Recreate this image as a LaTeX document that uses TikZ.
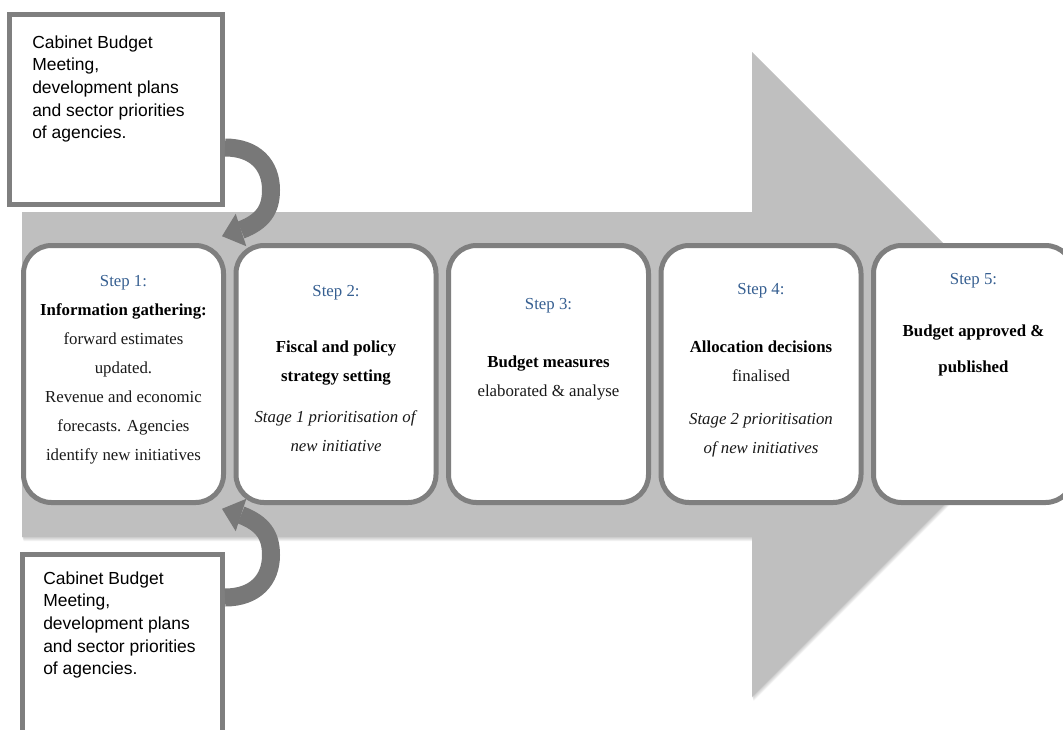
\documentclass[tikz,border=0pt]{standalone}
\usepackage{fontspec}
\setmainfont{Liberation Serif}
\newfontfamily\notefont{Liberation Sans}
\usetikzlibrary{calc}

\definecolor{shaftgrey}{RGB}{191,191,191}
\definecolor{framegrey}{RGB}{127,127,127}
\definecolor{bendgrey}{RGB}{120,120,120}
\definecolor{stepblue}{RGB}{54,95,145}
\definecolor{bodyink}{RGB}{25,25,25}

\tikzset{
  stepbox/.style={draw=framegrey, fill=white, line width=3.75pt,
    rounded corners=21pt, minimum width=150pt, minimum height=192.75pt,
    inner sep=0pt},
  notebox/.style={draw=framegrey, fill=white, line width=3.75pt, inner sep=0pt},
  steptext/.style={anchor=north, inner sep=0pt, align=center,
    font=\fontsize{12.6pt}{21.75pt}\selectfont, text=bodyink},
  notetext/.style={anchor=north west, inner sep=0pt, align=left,
    font=\notefont\fontsize{13.1pt}{16.9pt}\selectfont, text=black},
  bendarrow/.pic={
    \draw[bendgrey, line width=13.5pt]
      (0,0) .. controls (30,0) and (46,17.5) .. (46,42.5)
            .. controls (46,62) and (38,74) .. (16,82.5);
    \fill[bendgrey] (21.3,98.7) -- (-3,88.7) -- (10.7,66.3) -- cycle;
  }
}

\begin{document}
\begin{tikzpicture}[x=0.75pt, y=-0.75pt]
\useasboundingbox (0,0) rectangle (1063,729);
\clip (0,0) rectangle (1063,729);

% soft shadow under the process arrow
\foreach \d in {1,2,3,4}{
  \fill[black, opacity=0.05, shift={(0.4*\d,\d)}]
    (22,212) -- (752,212) -- (752,52) -- (1074.5,374.5) -- (752,697)
    -- (752,537) -- (22,537) -- cycle;
}
% the large process arrow
\fill[shaftgrey] (22,212) -- (752,212) -- (752,52) -- (1074.5,374.5)
  -- (752,697) -- (752,537) -- (22,537) -- cycle;

% input notes
\node[notebox, minimum width=159.75pt, minimum height=142.5pt] (n1) at (116,109.5) {};
\node[notebox, minimum width=150pt, minimum height=168.75pt] (n2) at (122.5,667) {};
\node[notetext] (n1t) at (32,35.5) {Cabinet Budget\\Meeting,\\development plans\\and sector priorities\\of agencies.};
\node[notetext] (n2t) at (43,571.5) {Cabinet Budget\\Meeting,\\development plans\\and sector priorities\\of agencies.};

% the five steps
\node[stepbox] (s1) at (123.5,374) {};
\node[stepbox] (s2) at (336,374) {};
\node[stepbox] (s3) at (548.5,374) {};
\node[stepbox] (s4) at (761,374) {};
\node[stepbox] (s5) at (973.5,374) {};

\node[steptext] (t1) at (123.5,275) {{\color{stepblue}Step 1:}\\
  \textbf{\color{black}Information gathering:}\\
  forward estimates\\updated.\\Revenue and economic\\forecasts. Agencies\\identify new initiatives};
\node[steptext] (t2) at (336,285) {{\color{stepblue}Step 2:}\\[20.25pt]
  \textbf{\color{black}Fiscal and policy}\\\textbf{\color{black}strategy setting}\\[9pt]
  \textit{Stage 1 prioritisation of}\\\textit{new initiative}};
\node[steptext] (t3) at (548.5,298) {{\color{stepblue}Step 3:}\\[21.75pt]
  \textbf{\color{black}Budget measures}\\elaborated \& analyse};
\node[steptext] (t4) at (761,283) {{\color{stepblue}Step 4:}\\[21.75pt]
  \textbf{\color{black}Allocation decisions}\\finalised\\[10.5pt]
  \textit{Stage 2 prioritisation}\\\textit{of new initiatives}};
\node[steptext] (t5) at (973.5,273) {{\color{stepblue}Step 5:}\\[17.25pt]
  \textbf{\color{black}Budget approved \&}\\[5.25pt]\textbf{\color{black}published}};

% feedback arrows from the notes into step 1
\coordinate (c1) at (0,147.5);
\coordinate (c2) at (0,597.5);
\pic at (n1.east |- c1) {bendarrow};
\pic[yscale=-1] at (n2.east |- c2) {bendarrow};
\end{tikzpicture}
\end{document}
